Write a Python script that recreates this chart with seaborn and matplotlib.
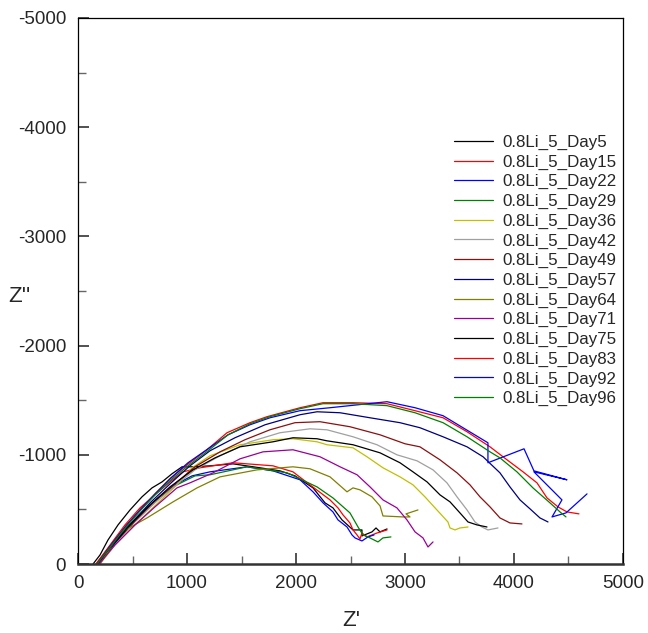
import numpy as np
import pandas as pd
import matplotlib
matplotlib.use("Agg")
import matplotlib.pyplot as plt
from matplotlib.ticker import MultipleLocator
import seaborn as sns

# Nyquist data (Z' , Z'') for each ageing day
day5_re = [138, 202, 275, 367, 477, 587, 679, 771, 862, 954, 1055, 1211, 1422, 1670, 1853, 1991, 2156, 2266, 2339, 2422, 2523, 2605, 2605, 2697, 2734, 2771, 2835]
day5_im = [0, -83, -220, -358, -495, -615, -697, -752, -826, -890, -890, -899, -917, -881, -853, -807, -697, -560, -514, -404, -312, -312, -257, -294, -330, -294, -321]

day15_re = [165, 294, 431, 569, 706, 844, 963, 1119, 1422, 1789, 1972, 2128, 2312, 2385, 2431, 2495, 2523, 2560, 2587, 2605, 2651, 2743, 2835]
day15_im = [0, -174, -358, -514, -633, -752, -844, -881, -927, -899, -844, -725, -587, -514, -450, -376, -312, -266, -229, -284, -248, -284, -312]

day22_re = [183, 312, 450, 587, 734, 890, 1046, 1211, 1550, 1789, 2037, 2156, 2248, 2339, 2385, 2468, 2514, 2541, 2605, 2660, 2716]
day22_im = [0, -174, -339, -477, -605, -725, -807, -844, -890, -853, -771, -661, -560, -477, -404, -339, -266, -239, -211, -248, -266]

day29_re = [183, 321, 459, 596, 752, 908, 1073, 1211, 1550, 1917, 2193, 2339, 2495, 2569, 2615, 2660, 2752, 2798, 2871]
day29_im = [0, -174, -339, -477, -615, -725, -807, -817, -890, -835, -706, -605, -468, -339, -266, -248, -202, -239, -248]

day36_re = [202, 339, 523, 734, 917, 1046, 1211, 1486, 1789, 1972, 2193, 2284, 2523, 2651, 2798, 2954, 3073, 3183, 3293, 3394, 3413, 3459, 3504, 3578]
day36_im = [0, -174, -358, -560, -734, -881, -991, -1092, -1138, -1147, -1119, -1092, -1064, -982, -881, -798, -725, -615, -495, -385, -330, -312, -330, -339]

day42_re = [183, 339, 523, 706, 890, 1073, 1303, 1578, 1853, 2128, 2284, 2523, 2743, 2926, 3110, 3257, 3385, 3477, 3569, 3642, 3706, 3761, 3853]
day42_im = [0, -193, -385, -560, -716, -862, -991, -1119, -1202, -1238, -1229, -1165, -1092, -1000, -945, -862, -743, -615, -495, -385, -339, -312, -330]

day49_re = [183, 339, 523, 706, 890, 1073, 1303, 1532, 1761, 1991, 2220, 2495, 2771, 3000, 3137, 3321, 3477, 3596, 3688, 3780, 3871, 3963, 4073]
day49_im = [0, -193, -394, -578, -734, -890, -1027, -1138, -1229, -1294, -1303, -1257, -1183, -1101, -1073, -954, -835, -725, -615, -523, -422, -376, -367]

day57_re = [193, 339, 477, 661, 844, 1027, 1211, 1440, 1716, 2037, 2193, 2404, 2679, 2954, 3137, 3349, 3569, 3716, 3871, 3963, 4055, 4147, 4238, 4312]
day57_im = [0, -193, -358, -560, -734, -899, -1037, -1156, -1275, -1367, -1394, -1385, -1339, -1294, -1248, -1165, -1073, -982, -835, -706, -587, -505, -422, -385]

day64_re = [202, 385, 633, 872, 1092, 1303, 1642, 1972, 2128, 2312, 2468, 2523, 2587, 2697, 2771, 2798, 2982, 3046, 3009, 3119]
day64_im = [0, -284, -422, -569, -697, -798, -862, -890, -872, -798, -661, -697, -679, -615, -532, -440, -431, -431, -459, -495]

day71_re = [193, 339, 523, 706, 908, 1027, 1239, 1486, 1697, 1972, 2220, 2404, 2560, 2679, 2798, 2926, 3018, 3092, 3165, 3211, 3257]
day71_im = [0, -174, -358, -523, -697, -743, -835, -963, -1027, -1046, -982, -890, -817, -706, -587, -514, -404, -294, -239, -156, -202]

day75_re = [174, 312, 477, 661, 844, 1055, 1257, 1486, 1789, 1972, 2193, 2284, 2523, 2771, 2954, 3073, 3202, 3321, 3413, 3504, 3578, 3660, 3752]
day75_im = [0, -174, -358, -541, -706, -862, -972, -1073, -1119, -1156, -1147, -1128, -1092, -1018, -927, -844, -752, -633, -569, -468, -385, -358, -339]

day83_re = [165, 294, 431, 569, 706, 844, 1000, 1183, 1367, 1578, 1734, 2037, 2248, 2523, 2835, 3092, 3349, 3569, 3780, 3936, 4083, 4211, 4303, 4404, 4486, 4596]
day83_im = [0, -165, -339, -495, -642, -780, -908, -1046, -1202, -1294, -1349, -1431, -1477, -1477, -1468, -1404, -1339, -1211, -1073, -954, -844, -743, -605, -523, -477, -459]

day92_re = [174, 303, 440, 578, 716, 853, 1009, 1193, 1376, 1578, 1761, 2037, 2312, 2835, 3092, 3349, 3761, 3761, 4092, 4183, 4486, 4183, 4440, 4349, 4477, 4670]
day92_im = [0, -174, -349, -505, -651, -789, -927, -1055, -1183, -1275, -1339, -1404, -1431, -1486, -1431, -1358, -1110, -927, -1055, -853, -771, -844, -587, -431, -468, -642]

day96_re = [174, 303, 440, 578, 716, 853, 1009, 1193, 1376, 1578, 1761, 2037, 2248, 2523, 2835, 3092, 3349, 3569, 3780, 3871, 4027, 4174, 4330, 4422, 4477]
day96_im = [0, -165, -339, -495, -642, -771, -899, -1037, -1183, -1284, -1349, -1422, -1468, -1468, -1450, -1385, -1294, -1165, -1027, -972, -844, -697, -560, -477, -431]

series_names = ["0.8Li_5_Day5", "0.8Li_5_Day15", "0.8Li_5_Day22", "0.8Li_5_Day29",
                "0.8Li_5_Day36", "0.8Li_5_Day42", "0.8Li_5_Day49", "0.8Li_5_Day57",
                "0.8Li_5_Day64", "0.8Li_5_Day71", "0.8Li_5_Day75", "0.8Li_5_Day83",
                "0.8Li_5_Day92", "0.8Li_5_Day96"]
series_re = [day5_re, day15_re, day22_re, day29_re, day36_re, day42_re, day49_re,
             day57_re, day64_re, day71_re, day75_re, day83_re, day92_re, day96_re]
series_im = [day5_im, day15_im, day22_im, day29_im, day36_im, day42_im, day49_im,
             day57_im, day64_im, day71_im, day75_im, day83_im, day92_im, day96_im]
series_colors = ["#000000", "#ff0000", "#0000ff", "#008000", "#c0c000", "#a0a0a0",
                 "#8b1010", "#000080", "#808000", "#990099", "#000000", "#ff0000",
                 "#0000ff", "#008000"]

frames = []
for name, re_, im_ in zip(series_names, series_re, series_im):
    frames.append(pd.DataFrame({"Zre": re_, "Zim": im_, "series": name,
                                "order": np.arange(len(re_))}))
df = pd.concat(frames, ignore_index=True)

sns.set_style("white")
plt.rcParams["font.family"] = ["Liberation Sans", "DejaVu Sans"]
plt.rcParams["axes.unicode_minus"] = False

fig = plt.figure(figsize=(6.48, 6.33), dpi=100)
ax = fig.add_axes([0.1204, 0.109, 0.841, 0.8626])

sns.lineplot(data=df, x="Zre", y="Zim", hue="series", hue_order=series_names,
             palette=dict(zip(series_names, series_colors)), sort=False,
             estimator=None, units="series", linewidth=0.9, ax=ax, legend=True)

ax.set_xlim(0, 5000)
ax.set_ylim(0, -5000)
ax.xaxis.set_major_locator(MultipleLocator(1000))
ax.xaxis.set_minor_locator(MultipleLocator(500))
ax.yaxis.set_major_locator(MultipleLocator(1000))
ax.yaxis.set_minor_locator(MultipleLocator(500))
ax.tick_params(which="major", direction="in", length=8, width=1.1, color="#222222",
               labelsize=13.5, top=False, right=False, bottom=True, left=True)
ax.tick_params(axis="y", which="major", pad=8.5)
ax.tick_params(axis="x", which="major", pad=8)
ax.tick_params(which="minor", direction="in", length=5.5, width=1.0, color="#666666",
               top=False, right=False, bottom=True, left=True)

for side in ["left", "top", "right"]:
    ax.spines[side].set_linewidth(0.9)
    ax.spines[side].set_color("black")
ax.spines["bottom"].set_linewidth(1.8)
ax.spines["bottom"].set_color("#333333")

ax.set_xlabel("Z'", fontsize=16)
ax.set_ylabel("Z''", fontsize=16, rotation=0, ha="center", va="center")
ax.xaxis.set_label_coords(0.501, -0.084)
ax.yaxis.set_label_coords(-0.108, 0.49)

handles, labels = ax.get_legend_handles_labels()
ax.legend(handles, labels, frameon=False, loc="upper right",
          bbox_to_anchor=(0.989, 0.786), borderaxespad=0, borderpad=0,
          fontsize=12.2, labelspacing=0.27, handlelength=2.3, handletextpad=0.6)

fig.savefig("out.png", dpi=100)
